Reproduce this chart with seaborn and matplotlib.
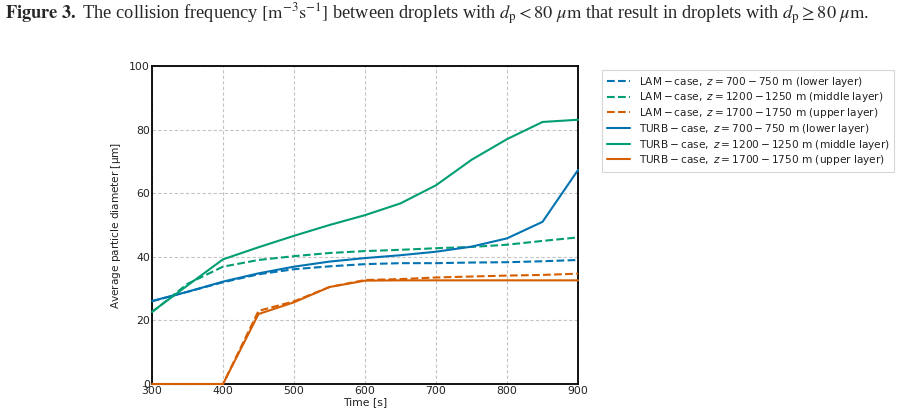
import numpy as np
import pandas as pd
import matplotlib
matplotlib.use("Agg")
import matplotlib.pyplot as plt
import seaborn as sns

time = [300, 350, 400, 450, 500, 550, 600, 650, 700, 750, 800, 850, 900]

lam_lower = [26.0, 29.0, 32.0, 34.5, 36.1, 37.0, 37.7, 38.0, 38.0, 38.2, 38.3, 38.6, 39.0]
lam_middle = [22.6, 31.5, 36.9, 39.0, 40.2, 41.2, 41.8, 42.2, 42.7, 43.1, 43.8, 45.0, 46.1]
lam_upper = [0.0, 0.0, 0.0, 23.0, 26.0, 30.5, 32.7, 33.0, 33.5, 33.8, 34.1, 34.3, 34.7]
turb_lower = [26.1, 29.0, 32.2, 34.8, 36.9, 38.5, 39.6, 40.5, 41.6, 43.2, 45.8, 51.0, 67.3]
turb_middle = [22.7, 31.0, 39.2, 43.0, 46.6, 50.0, 53.1, 56.8, 62.5, 70.5, 77.0, 82.4, 83.1]
turb_upper = [0.0, 0.0, 0.0, 22.0, 25.7, 30.5, 32.5, 32.6, 32.6, 32.6, 32.6, 32.6, 32.6]

labels = [
    r"$\mathrm{LAM-case},\ z = 700-750\ \mathrm{m}$ (lower layer)",
    r"$\mathrm{LAM-case},\ z = 1200-1250\ \mathrm{m}$ (middle layer)",
    r"$\mathrm{LAM-case},\ z = 1700-1750\ \mathrm{m}$ (upper layer)",
    r"$\mathrm{TURB-case},\ z = 700-750\ \mathrm{m}$ (lower layer)",
    r"$\mathrm{TURB-case},\ z = 1200-1250\ \mathrm{m}$ (middle layer)",
    r"$\mathrm{TURB-case},\ z = 1700-1750\ \mathrm{m}$ (upper layer)",
]
series = [lam_lower, lam_middle, lam_upper, turb_lower, turb_middle, turb_upper]

pal = sns.color_palette("colorblind")
colors = [pal[0], pal[2], pal[3]] * 2
styles = ["--"] * 3 + ["-"] * 3

sns.set_style("white")
plt.rcParams["font.family"] = ["DejaVu Sans"]
plt.rcParams["mathtext.fontset"] = "dejavusans"

fig = plt.figure(figsize=(9.08, 4.19), dpi=100)
ax = fig.add_axes([0.1674, 0.0835, 0.4692, 0.759])

for y, lab, c, ls in zip(series, labels, colors, styles):
    df = pd.DataFrame({"t": time, "d": y})
    sns.lineplot(data=df, x="t", y="d", ax=ax, color=c, linestyle=ls,
                 linewidth=1.5, label=lab, clip_on=False, zorder=5)

ax.set_xlim(300, 900)
ax.set_ylim(0, 100)
ax.set_xticks([300, 400, 500, 600, 700, 800, 900])
ax.set_yticks([0, 20, 40, 60, 80, 100])
ax.grid(True, linestyle=(0, (3, 2)), color="#c4c4c4", linewidth=0.8)
ax.tick_params(axis="both", labelsize=7.8, length=0, pad=1.5, labelcolor="#222222")
for s in ax.spines.values():
    s.set_color("black")
    s.set_linewidth(1.3)
    s.set_zorder(3)
ax.set_xlabel("Time [s]", fontsize=7.8, labelpad=1, color="#222222")
ax.set_ylabel(r"Average particle diameter [$\mathrm{\mu}$m]", fontsize=7.6, labelpad=4, color="#222222")

leg = ax.legend(loc="upper left", bbox_to_anchor=(1.045, 1.004), fontsize=7.6,
                frameon=True, fancybox=False, edgecolor="#cccccc",
                handlelength=2.2, handletextpad=0.8, labelspacing=0.16,
                borderpad=0.45)
leg.get_frame().set_linewidth(0.8)
for t in leg.get_texts():
    t.set_color("#222222")

fig.text(0.006, 0.997,
         r"$\mathbf{Figure\ 3.}$ The collision frequency $[\mathrm{m}^{-3}\mathrm{s}^{-1}]$ between droplets with $d_{\mathrm{p}} < 80\ \mu\mathrm{m}$ that result in droplets with $d_{\mathrm{p}} \geq 80\ \mu\mathrm{m}$.",
         fontsize=13.2, family="Liberation Serif", va="top", ha="left",
         math_fontfamily="stix")

fig.savefig("out.png", dpi=100)
